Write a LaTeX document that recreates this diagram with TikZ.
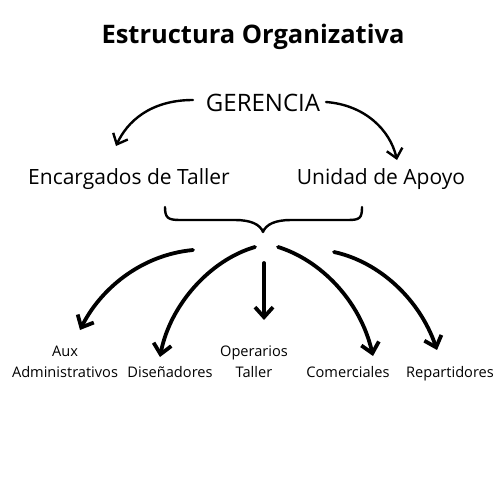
\documentclass[tikz,border=0pt]{standalone}
\usepackage{fontspec}
\setmainfont{Open Sans}
\usetikzlibrary{arrows.meta}
\begin{document}
\begin{tikzpicture}[x=1pt,y=-1pt,
  lbl/.style={inner sep=0pt, anchor=base},
  small/.style={lbl, align=center, font=\fontsize{14.6}{20.5}\selectfont},
  thin arr/.style={line width=2.4pt, line cap=round, -{Straight Barb[length=9pt,width=16pt,line width=2.4pt]}},
  thick arr/.style={line width=3.8pt, line cap=round, -{Straight Barb[length=10pt,width=18pt,line width=3.8pt]}}]
\useasboundingbox (0,0) rectangle (500,500);
\node[lbl, font=\fontsize{25.5}{30}\selectfont\bfseries] (title) at (253,44) {Estructura Organizativa};
\node[lbl, font=\fontsize{24}{28}\selectfont] (ger) at (263,112) {GERENCIA};
\node[lbl, font=\fontsize{21}{25}\selectfont] (enc) at (129,184) {Encargados de Taller};
\node[lbl, font=\fontsize{21}{25}\selectfont] (uni) at (381,184) {Unidad de Apoyo};
\node[small] (aux) at (65,377) {Aux\\Administrativos};
\node[small] (dis) at (170,377) {Diseñadores};
\node[small] (ope) at (254,377) {Operarios\\Taller};
\node[small] (com) at (348,377) {Comerciales};
\node[small] (rep) at (450,377) {Repartidores};
% top arrows
\coordinate (gl) at (193,100);
\coordinate (gr) at (326,102);
\coordinate (el) at (116,146);
\coordinate (ur) at (397,160);
\draw[thin arr] (gl) .. controls (150,100) and (127,122) .. (el);
\draw[thin arr] (gr) .. controls (365,105) and (390,130) .. (ur);
% brace
\coordinate (b1) at (165,207);
\coordinate (btip) at (263,232);
\coordinate (b2) at (362,207);
\draw[line width=2.4pt, line cap=round, line join=round]
  (b1) .. controls (165,218) and (168,220) .. (180,220) -- (235,220)
  .. controls (250,220) and (260,224) .. (btip)
  .. controls (266,224) and (276,220) .. (291,220) -- (348,220)
  .. controls (360,220) and (362,218) .. (b2);
% bottom arrows
\coordinate (s1) at (193,250);
\coordinate (s2) at (255,247);
\coordinate (s3) at (264,263);
\coordinate (s4) at (278,247);
\coordinate (s5) at (334,252);
\coordinate (t1) at (80,330);
\coordinate (t2) at (160,357);
\coordinate (t3) at (264,320);
\coordinate (t4) at (373,356);
\coordinate (t5) at (437,350);
\draw[thick arr] (s1) .. controls (140,255) and (100,290) .. (t1);
\draw[thick arr] (s2) .. controls (210,260) and (170,305) .. (t2);
\draw[thick arr] (s3) -- (t3);
\draw[thick arr] (s4) .. controls (320,260) and (360,300) .. (t4);
\draw[thick arr] (s5) .. controls (380,262) and (420,300) .. (t5);
\end{tikzpicture}
\end{document}
